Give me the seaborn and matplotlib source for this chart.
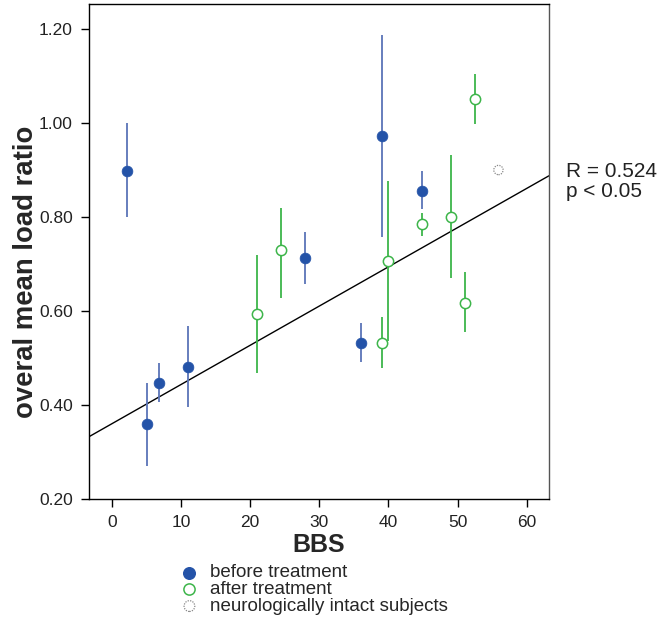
import numpy as np
import pandas as pd
import matplotlib
matplotlib.use("Agg")
import matplotlib.pyplot as plt
import seaborn as sns

# Données
bbs_before = [2.2, 5.1, 6.8, 11.0, 28.0, 36.0, 39.0, 44.9]
ratio_before = [0.898, 0.360, 0.447, 0.481, 0.713, 0.532, 0.972, 0.855]
low_before = [0.800, 0.270, 0.406, 0.396, 0.657, 0.491, 0.757, 0.817]
high_before = [1.000, 0.447, 0.489, 0.568, 0.768, 0.574, 1.187, 0.898]

bbs_after = [21.0, 24.4, 39.0, 40.0, 44.9, 49.0, 51.0, 52.5]
ratio_after = [0.594, 0.730, 0.532, 0.706, 0.785, 0.800, 0.617, 1.051]
low_after = [0.468, 0.628, 0.479, 0.536, 0.760, 0.670, 0.555, 0.998]
high_after = [0.719, 0.819, 0.587, 0.877, 0.809, 0.932, 0.683, 1.104]

bbs_intact = [55.9]
ratio_intact = [0.900]

# droite de régression
reg_intercept = 0.360
reg_slope = 0.00835

x_ticks = [0, 10, 20, 30, 40, 50, 60]
y_ticks = [0.20, 0.40, 0.60, 0.80, 1.00, 1.20]

blue = "#2453a8"
blue_err = "#5a74b8"
green = "#3db54a"
gray = "#888888"

sns.set_theme(style="white")
plt.rcParams['font.family'] = ['Liberation Sans', 'DejaVu Sans']

fig = plt.figure(figsize=(6.59, 6.17), dpi=100)
ax = fig.add_axes([0.135, 0.1913, 0.698, 0.802])

# barres d'erreur
ax.vlines(bbs_before, low_before, high_before, color=blue_err, lw=1.3, zorder=2)
ax.vlines(bbs_after, low_after, high_after, color=green, lw=1.3, zorder=2)

before = pd.DataFrame({'bbs': bbs_before, 'ratio': ratio_before})
after = pd.DataFrame({'bbs': bbs_after, 'ratio': ratio_after})
intact = pd.DataFrame({'bbs': bbs_intact, 'ratio': ratio_intact})

sns.scatterplot(data=before, x='bbs', y='ratio', ax=ax, color=blue, s=60,
                edgecolor=blue, linewidth=0.5, zorder=3)
sns.scatterplot(data=after, x='bbs', y='ratio', ax=ax, facecolor='white',
                edgecolor=green, linewidth=1.1, s=55, zorder=3)
sns.scatterplot(data=intact, x='bbs', y='ratio', ax=ax, facecolor='white',
                edgecolor=gray, linewidth=0.9, s=45, zorder=3)
ax.collections[-1].set_linestyle((0, (1, 1)))

ax.axline((0, reg_intercept), slope=reg_slope, color='black', lw=1.0, zorder=1)

ax.set_xlim(-3.3, 63.2)
ax.set_ylim(0.2, 1.253)
ax.set_xticks(x_ticks)
ax.set_yticks(y_ticks)
ax.set_yticklabels([f"{v:.2f}" for v in y_ticks])
ax.tick_params(axis='both', direction='out', length=5.5, width=1, color='black',
               labelsize=12.5, labelcolor='#222222', bottom=True, left=True, pad=6)
for side in ['left', 'bottom', 'top']:
    ax.spines[side].set_color('black')
    ax.spines[side].set_linewidth(1.0)
ax.spines['right'].set_color('#555555')
ax.spines['right'].set_linewidth(1.0)

ax.set_xlabel('BBS', fontsize=18, fontweight='bold', labelpad=2)
ax.set_ylabel('overal mean load ratio', fontsize=19.8, fontweight='bold')
ax.yaxis.set_label_coords(-0.109, 0.459)

fig.text(0.859, 0.722, 'R = 0.524', fontsize=15, color='#222222', va='center')
fig.text(0.859, 0.690, 'p < 0.05', fontsize=15, color='#222222', va='center')

h_before = ax.scatter([], [], s=70, color=blue)
h_after = ax.scatter([], [], s=65, facecolor='white', edgecolor=green, linewidth=1.1)
h_intact = ax.scatter([], [], s=60, facecolor='white', edgecolor=gray,
                      linewidth=0.9, linestyle=(0, (1, 1)))
labels = ['before treatment', 'after treatment', 'neurologically intact subjects']
fig.legend([h_before, h_after, h_intact], labels, loc='upper left',
           bbox_to_anchor=(0.259, 0.1005), frameon=False, fontsize=13.5,
           handlelength=1.0, handletextpad=0.6, labelspacing=-0.02, borderpad=0,
           scatterpoints=1)

fig.savefig('out.png', dpi=100)
